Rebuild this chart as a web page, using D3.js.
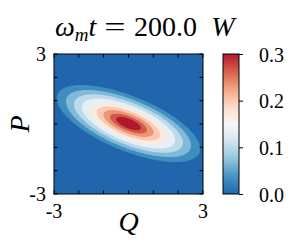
<!DOCTYPE html>
<html>
<head>
<meta charset="utf-8">
<script src="https://cdn.jsdelivr.net/npm/d3@7"></script>
<style>
  body { margin: 0; background: #fff; }
  text { font-family: "Liberation Serif", "DejaVu Serif", serif; fill: #000; }
</style>
</head>
<body>
<script>
// Wigner function snapshot, omega_m t = 200.0
// contour levels (lower edge of each filled band)
var levels = [0, 0.03, 0.06, 0.09, 0.12, 0.15, 0.18, 0.21, 0.24, 0.27];
// semi-major axis (in Q/P units) of the contour at levels[1..9]
var semiMajor = [3.12, 2.72, 2.37, 2.03, 1.66, 1.38, 1.09, 0.80, 0.54];
var axisRatio = 2.7;      // major / minor
var tiltDeg = -24;        // major axis angle in the Q-P plane
var centre = [0, 0.02];
var axisTicks = [-3, -2, -1, 0, 1, 2, 3];
var axisLabels = [-3, 3];
var cbarTicks = [0, 0.1, 0.2, 0.3];
var cmapStops = ["#2166ac", "#4393c3", "#92c5de", "#d1e5f0", "#f7f7f7",
                 "#fddbc7", "#f4a582", "#d6604d", "#b2182b"];

var W = 300, H = 250;
var plot = {left: 54, right: 203, top: 54, bottom: 194};
var cbar = {left: 223, right: 239};

var svg = d3.select("body").append("svg")
    .attr("width", W)
    .attr("height", H);

var x = d3.scaleLinear().domain([-3, 3]).range([plot.left, plot.right]);
var y = d3.scaleLinear().domain([-3, 3]).range([plot.bottom, plot.top]);
var cmap = d3.piecewise(d3.interpolateRgb, cmapStops);
var vmax = 0.3;

function bandColor(i) {
  return cmap(i / (levels.length - 1));
}

svg.append("defs").append("clipPath").attr("id", "clip")
  .append("rect")
    .attr("x", plot.left).attr("y", plot.top)
    .attr("width", plot.right - plot.left)
    .attr("height", plot.bottom - plot.top);

var g = svg.append("g").attr("clip-path", "url(#clip)");

// lowest band fills the whole box
g.append("rect")
    .attr("x", plot.left).attr("y", plot.top)
    .attr("width", plot.right - plot.left)
    .attr("height", plot.bottom - plot.top)
    .attr("fill", bandColor(0));

// each contour is an ellipse in data space
var th = tiltDeg * Math.PI / 180;
var line = d3.line()
    .x(function(d) { return x(d[0]); })
    .y(function(d) { return y(d[1]); })
    .curve(d3.curveLinearClosed);

function ellipse(a) {
  var b = a / axisRatio, pts = [];
  for (var k = 0; k < 180; k++) {
    var t = 2 * Math.PI * k / 180;
    var u = a * Math.cos(t), v = b * Math.sin(t);
    pts.push([centre[0] + u * Math.cos(th) - v * Math.sin(th),
              centre[1] + u * Math.sin(th) + v * Math.cos(th)]);
  }
  return pts;
}

g.selectAll(".band")
    .data(semiMajor)
  .enter().append("path")
    .attr("class", "band")
    .attr("d", function(a) { return line(ellipse(a)); })
    .attr("fill", function(a, i) { return bandColor(i + 1); });

// frame + inward ticks on all sides
var tickLen = 3.5;
var frame = svg.append("g").attr("stroke", "#000").attr("stroke-width", 1);
frame.append("rect")
    .attr("x", plot.left).attr("y", plot.top)
    .attr("width", plot.right - plot.left)
    .attr("height", plot.bottom - plot.top)
    .attr("fill", "none");

axisTicks.forEach(function(t) {
  frame.append("line").attr("x1", x(t)).attr("x2", x(t))
      .attr("y1", plot.bottom).attr("y2", plot.bottom - tickLen);
  frame.append("line").attr("x1", x(t)).attr("x2", x(t))
      .attr("y1", plot.top).attr("y2", plot.top + tickLen);
  frame.append("line").attr("y1", y(t)).attr("y2", y(t))
      .attr("x1", plot.left).attr("x2", plot.left + tickLen);
  frame.append("line").attr("y1", y(t)).attr("y2", y(t))
      .attr("x1", plot.right).attr("x2", plot.right - tickLen);
});

svg.selectAll(".xlab")
    .data(axisLabels)
  .enter().append("text")
    .attr("x", function(d) { return x(d); })
    .attr("y", plot.bottom + 24)
    .attr("text-anchor", "middle")
    .style("font-size", "20px")
    .text(function(d) { return d; });

svg.selectAll(".ylab")
    .data(axisLabels)
  .enter().append("text")
    .attr("x", plot.left - 8)
    .attr("y", function(d) { return y(d) + 7; })
    .attr("text-anchor", "end")
    .style("font-size", "20px")
    .text(function(d) { return d; });

svg.append("text")
    .attr("x", x(0))
    .attr("y", plot.bottom + 37)
    .attr("text-anchor", "middle")
    .style("font-size", "28px")
    .style("font-style", "italic")
    .text("Q");

svg.append("text")
    .attr("transform", "translate(" + (plot.left - 25) + "," + y(0) + ") rotate(-90)")
    .attr("text-anchor", "middle")
    .style("font-size", "28px")
    .style("font-style", "italic")
    .text("P");

// title, laid out in three pieces like mathtext
var title = svg.append("g").style("font-size", "28px");
var lhs = title.append("text").attr("x", 55).attr("y", 36);
lhs.append("tspan").style("font-style", "italic").text("\u03c9");
lhs.append("tspan").style("font-style", "italic").style("font-size", "19px")
    .attr("dy", 5).text("m");
lhs.append("tspan").style("font-style", "italic").attr("dy", -5).text("t");
title.append("text").attr("x", 115).attr("y", 36)
    .attr("text-anchor", "middle")
    .attr("transform", "translate(115,0) scale(1.35,1) translate(-115,0)")
    .text("=");
title.append("text").attr("x", 197).attr("y", 36)
    .attr("text-anchor", "end")
    .text("200.0");

svg.append("text")
    .attr("x", 223)
    .attr("y", 36)
    .attr("text-anchor", "middle")
    .style("font-size", "28px")
    .style("font-style", "italic")
    .text("W");

// colorbar
var grad = svg.select("defs").append("linearGradient")
    .attr("id", "cgrad")
    .attr("x1", 0).attr("y1", 1).attr("x2", 0).attr("y2", 0);
d3.range(0, 1.0001, 0.05).forEach(function(t) {
  grad.append("stop").attr("offset", t).attr("stop-color", cmap(t));
});

var cy = d3.scaleLinear().domain([0, vmax]).range([plot.bottom, plot.top]);

svg.append("rect")
    .attr("x", cbar.left).attr("y", plot.top)
    .attr("width", cbar.right - cbar.left)
    .attr("height", plot.bottom - plot.top)
    .attr("fill", "url(#cgrad)")
    .attr("stroke", "#000")
    .attr("stroke-width", 1);

var cax = svg.append("g")
    .attr("transform", "translate(" + cbar.right + ",0)")
    .call(d3.axisRight(cy).tickValues(cbarTicks).tickSize(4).tickPadding(16)
      .tickFormat(d3.format(".1f")));
cax.select(".domain").remove();
cax.selectAll("text")
    .style("font-family", "Liberation Serif, serif")
    .style("font-size", "20px")
    .attr("dy", "0.35em");
</script>
</body>
</html>
